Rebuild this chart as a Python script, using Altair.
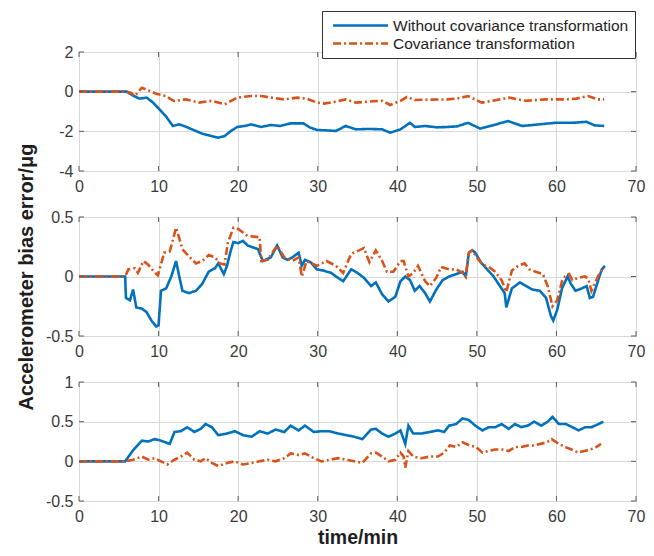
import altair as alt
import pandas as pd

SERIES = ["Without covariance transformation", "Covariance transformation"]
COLORS = ["#0072BD", "#D95319"]
DASHES = [[1, 0], [8, 3, 2, 3]]

X_TICKS = [0, 10, 20, 30, 40, 50, 60, 70]
Y_DOM_1, Y_TICKS_1 = [-4, 2], [-4, -2, 0, 2]
Y_DOM_2, Y_TICKS_2 = [-0.5, 0.5], [-0.5, 0, 0.5]
Y_DOM_3, Y_TICKS_3 = [-0.5, 1], [-0.5, 0, 0.5, 1]

Y_TITLE = "Accelerometer bias error/μg"
X_TITLE = "time/min"

# (time in min, bias error) pairs
P1_WITHOUT = [(0, 0), (6.0, 0), (6.8, -0.2), (7.6, -0.35), (8.5, -0.3), (9.3, -0.55), (10.1, -0.89),
              (10.9, -1.23), (11.8, -1.73), (12.6, -1.65), (13.2, -1.73), (14.2, -1.9), (15.5, -2.12),
              (16.7, -2.24), (17.5, -2.32), (18.3, -2.24), (19.1, -1.98), (19.9, -1.78), (20.8, -1.73),
              (21.6, -1.65), (22.9, -1.78), (24.1, -1.68), (25.3, -1.73), (26.6, -1.6), (28.2, -1.6),
              (29.0, -1.8), (29.9, -1.93), (31.0, -1.95), (32.3, -1.98), (33.5, -1.73), (34.8, -1.9),
              (36.5, -1.88), (38.1, -1.9), (39.1, -2.07), (40.4, -1.9), (41.6, -1.57), (42.2, -1.78),
              (43.5, -1.73), (45.0, -1.8), (46.3, -1.78), (47.5, -1.75), (48.9, -1.57), (50.4, -1.86),
              (52.0, -1.7), (53.9, -1.48), (55.7, -1.73), (57.8, -1.65), (59.9, -1.57), (62.0, -1.57),
              (63.8, -1.52), (64.8, -1.7), (66.0, -1.73)]
P1_COV = [(0, 0), (6.0, 0), (6.5, -0.05), (7.0, -0.22), (7.9, 0.2), (8.5, 0.1), (9.7, -0.1), (10.9, -0.22),
          (11.9, -0.47), (13.4, -0.39), (15.1, -0.55), (16.7, -0.46), (18.3, -0.64), (19.9, -0.3),
          (21.6, -0.22), (22.9, -0.22), (24.1, -0.3), (25.8, -0.39), (27.4, -0.3), (28.6, -0.35),
          (29.9, -0.55), (30.8, -0.6), (32.3, -0.5), (33.5, -0.39), (34.8, -0.55), (36.5, -0.5),
          (38.1, -0.46), (39.1, -0.67), (40.4, -0.46), (41.2, -0.27), (42.2, -0.42), (44.0, -0.4),
          (46.3, -0.39), (47.5, -0.35), (48.9, -0.22), (50.6, -0.55), (52.0, -0.46), (54.1, -0.3),
          (56.1, -0.46), (58.6, -0.39), (61.1, -0.39), (62.5, -0.35), (64.0, -0.22), (65.2, -0.39),
          (66.0, -0.39)]

P2_WITHOUT = [(0, 0), (5.8, 0), (5.9, -0.18), (6.4, -0.2), (6.8, -0.11), (7.2, -0.26), (7.9, -0.27),
              (8.5, -0.3), (9.1, -0.37), (9.7, -0.42), (10.0, -0.41), (10.3, -0.12), (10.95, -0.1),
              (11.6, 0.0), (12.2, 0.13), (12.6, 0.0), (13.0, -0.12), (13.8, -0.14), (14.7, -0.12),
              (15.5, -0.06), (16.3, 0.04), (17.1, 0.07), (17.5, 0.11), (18.2, 0.02), (18.6, 0.09),
              (19.0, 0.2), (19.4, 0.29), (20.0, 0.28), (20.6, 0.3), (21.2, 0.26), (22.5, 0.23),
              (23.1, 0.13), (24.1, 0.16), (24.9, 0.26), (25.6, 0.16), (26.2, 0.14), (26.8, 0.16),
              (27.6, 0.2), (28.0, 0.09), (28.4, 0.14), (29.1, 0.12), (29.9, 0.06), (30.7, 0.05),
              (31.7, 0.03), (32.3, 0.0), (33.2, -0.04), (34.2, 0.06), (35.0, 0.03), (35.8, -0.01),
              (36.7, -0.08), (37.3, -0.05), (38.1, -0.15), (38.9, -0.21), (39.75, -0.17), (40.4, -0.04),
              (41.0, 0.0), (41.6, -0.03), (42.2, -0.12), (42.8, -0.08), (43.5, -0.14), (44.1, -0.21),
              (44.9, -0.11), (45.7, -0.03), (46.5, 0.0), (47.4, 0.02), (48.2, 0.04), (48.6, 0.0),
              (49.0, 0.2), (49.4, 0.22), (49.8, 0.2), (50.5, 0.12), (51.3, 0.06), (52.1, 0.0),
              (52.9, -0.08), (53.5, -0.14), (53.7, -0.26), (54.4, -0.1), (55.4, -0.05), (56.2, -0.08),
              (57.0, -0.11), (57.9, -0.12), (58.7, -0.18), (59.3, -0.33), (59.6, -0.37), (60.1, -0.28),
              (60.7, -0.1), (61.4, 0.0), (61.8, -0.06), (62.4, -0.12), (63.2, -0.1), (63.8, -0.08),
              (64.2, -0.18), (64.6, -0.17), (65.3, -0.02), (65.7, 0.06), (66.1, 0.09)]
P2_COV = [(0, 0), (5.8, 0), (6.2, 0.06), (7.0, 0.07), (7.4, 0.03), (8.1, 0.13), (8.7, 0.1), (9.3, 0.05),
          (9.9, 0.01), (10.3, 0.1), (10.7, 0.2), (11.4, 0.21), (11.8, 0.31), (12.2, 0.41), (12.6, 0.32),
          (13.0, 0.23), (13.8, 0.17), (14.7, 0.11), (15.5, 0.13), (16.3, 0.18), (17.1, 0.16),
          (17.7, 0.11), (18.3, 0.1), (18.7, 0.28), (19.4, 0.41), (20.0, 0.4), (20.6, 0.37),
          (21.2, 0.34), (22.7, 0.33), (22.9, 0.13), (23.7, 0.14), (24.9, 0.26), (25.8, 0.16),
          (26.8, 0.13), (27.6, 0.16), (28.0, 0.0), (28.6, 0.13), (29.9, 0.09), (31.1, 0.13),
          (32.3, 0.09), (33.2, 0.03), (34.2, 0.19), (35.2, 0.22), (35.8, 0.24), (36.5, 0.12),
          (37.3, 0.22), (38.1, 0.13), (38.7, 0.04), (39.5, 0.04), (40.4, 0.13), (40.8, 0.13),
          (41.4, 0.0), (42.0, 0.03), (42.6, 0.09), (43.5, -0.04), (44.1, -0.08), (44.9, -0.01),
          (45.5, 0.08), (46.5, 0.06), (47.4, 0.06), (48.2, 0.03), (48.6, 0.0), (49.0, 0.2),
          (49.4, 0.22), (50.0, 0.16), (50.7, 0.1), (51.5, 0.08), (52.3, 0.04), (53.1, -0.03),
          (53.7, -0.13), (54.4, 0.05), (55.2, 0.09), (56.0, 0.11), (56.6, 0.06), (57.4, 0.04),
          (58.3, 0.02), (58.9, -0.08), (59.5, -0.25), (60.1, -0.2), (60.7, -0.04), (61.1, 0.0),
          (61.6, 0.02), (62.0, -0.03), (62.8, -0.01), (63.6, 0.0), (64.0, -0.02), (64.4, -0.12),
          (64.8, -0.06), (65.5, 0.04), (66.1, 0.07)]

P3_WITHOUT = [(0, 0), (5.8, 0), (6.8, 0.14), (7.9, 0.26), (8.7, 0.25), (9.5, 0.28), (10.3, 0.26),
              (11.4, 0.22), (12.0, 0.37), (12.8, 0.38), (13.6, 0.43), (14.5, 0.37), (15.3, 0.41),
              (15.9, 0.47), (16.7, 0.43), (17.5, 0.33), (18.6, 0.35), (19.6, 0.38), (20.6, 0.33),
              (21.7, 0.31), (22.7, 0.38), (23.7, 0.35), (24.7, 0.4), (25.8, 0.37), (26.6, 0.45),
              (27.6, 0.39), (28.4, 0.45), (29.5, 0.37), (30.5, 0.38), (31.5, 0.38), (32.6, 0.35),
              (33.6, 0.33), (34.6, 0.31), (35.6, 0.28), (36.7, 0.4), (37.3, 0.41), (38.1, 0.35),
              (38.9, 0.31), (39.75, 0.35), (40.4, 0.39), (41.0, 0.22), (41.4, 0.45), (42.0, 0.35),
              (43.0, 0.35), (44.1, 0.37), (45.1, 0.39), (45.9, 0.37), (46.5, 0.45), (47.4, 0.47),
              (48.2, 0.54), (49.0, 0.52), (49.8, 0.45), (50.7, 0.39), (51.5, 0.43), (52.3, 0.43),
              (53.1, 0.47), (54.0, 0.41), (54.8, 0.47), (55.6, 0.43), (56.4, 0.45), (57.2, 0.5),
              (58.1, 0.45), (58.9, 0.5), (59.5, 0.56), (60.3, 0.47), (61.2, 0.47), (62.0, 0.43),
              (62.8, 0.39), (63.6, 0.43), (64.4, 0.43), (65.3, 0.47), (65.9, 0.5)]
P3_COV = [(0, 0), (5.8, 0), (6.8, 0.02), (7.9, 0.06), (8.7, 0.02), (9.5, 0.04), (10.3, 0.0), (11.1, -0.04),
          (12.0, 0.02), (12.8, 0.06), (13.6, 0.11), (14.5, 0.02), (15.3, 0.0), (15.9, 0.04),
          (16.7, -0.02), (17.5, -0.06), (18.6, -0.02), (19.6, 0.0), (20.6, -0.04), (21.7, -0.02),
          (22.7, 0.0), (23.7, 0.02), (24.7, 0.0), (25.8, 0.04), (26.6, 0.1), (27.6, 0.08), (28.4, 0.1),
          (29.5, 0.04), (30.5, 0.0), (31.5, 0.02), (32.6, 0.04), (33.6, 0.02), (34.6, 0.0),
          (35.6, -0.02), (36.7, 0.1), (37.3, 0.11), (38.1, 0.06), (38.9, 0.0), (39.75, 0.02),
          (40.4, 0.11), (40.8, 0.06), (41.0, -0.08), (41.4, 0.13), (42.0, 0.06), (43.0, 0.04),
          (44.1, 0.06), (45.1, 0.06), (45.9, 0.11), (46.6, 0.2), (47.4, 0.18), (48.2, 0.24),
          (49.1, 0.2), (49.9, 0.18), (50.7, 0.11), (51.5, 0.13), (52.3, 0.15), (53.2, 0.15),
          (54.0, 0.13), (54.8, 0.18), (55.6, 0.18), (56.4, 0.2), (57.2, 0.2), (58.0, 0.22),
          (58.8, 0.24), (59.4, 0.28), (60.3, 0.22), (61.1, 0.18), (61.9, 0.15), (62.7, 0.11),
          (63.5, 0.13), (64.3, 0.15), (65.0, 0.18), (65.6, 0.22)]

W, H = 557, 119
FRAME = "#5e5e5e"
FONT = "Liberation Sans"
TICK_LEN = 5
LEGEND_W = 314


def series_df(pairs, name):
    return pd.DataFrame({"t": [p[0] for p in pairs], "v": [p[1] for p in pairs], "series": name})


def panel(without, cov, ydom, yticks, show_legend, ytitle, xtitle):
    xscale = alt.Scale(domain=[0, 70], nice=False, zero=False)
    yscale = alt.Scale(domain=ydom, nice=False, zero=False)
    xaxis = alt.Axis(values=X_TICKS, grid=True, ticks=False, domain=False, labelPadding=7,
                     labelFontSize=16, labelColor="#3a3a3a", labelFlush=False, labelOverlap=False,
                     title=xtitle if xtitle else "", titleFontSize=19.5, titleFontWeight="bold",
                     titleColor="#1e1e1e", titlePadding=4)
    yaxis = alt.Axis(values=yticks, grid=True, ticks=False, domain=False, labelPadding=6,
                     labelFontSize=16, labelColor="#3a3a3a", labelFlush=False, labelOverlap=False,
                     labelExpr="datum.value + ''",
                     title=ytitle if ytitle else "", titleFontSize=20, titleFontWeight="bold",
                     titleColor="#1e1e1e", titlePadding=9)
    if show_legend:
        leg = alt.Legend(orient="none", legendX=W - LEGEND_W, legendY=-41, title=None,
                         symbolType="M-0.5,0H7.5", symbolSize=189, symbolStrokeWidth=2.6,
                         labelOffset=48, labelFontSize=15.5, labelFont=FONT, labelColor="#1e1e1e",
                         labelLimit=400, rowPadding=1, padding=6, fillColor="white",
                         strokeColor="#333333", cornerRadius=0)
    else:
        leg = None
    color = alt.Color("series:N", scale=alt.Scale(domain=SERIES, range=COLORS), legend=leg)
    dash = alt.StrokeDash("series:N", scale=alt.Scale(domain=SERIES, range=DASHES), legend=leg)

    xe = alt.X("t:Q", scale=xscale, axis=xaxis)
    ye = alt.Y("v:Q", scale=yscale, axis=yaxis)
    layers = []
    for pairs, name in [(without, SERIES[0]), (cov, SERIES[1])]:
        layers.append(
            alt.Chart(series_df(pairs, name)).mark_line(strokeWidth=2.6).encode(
                x=xe, y=ye, color=color, strokeDash=dash, order="t:Q")
        )
    xt = pd.DataFrame({"t": X_TICKS})
    yt = pd.DataFrame({"v": yticks})
    rule = dict(color=FRAME, strokeWidth=1)
    layers.append(alt.Chart(xt).mark_rule(**rule).encode(x=xe, y=alt.value(0), y2=alt.value(TICK_LEN)))
    layers.append(alt.Chart(xt).mark_rule(**rule).encode(x=xe, y=alt.value(H - TICK_LEN), y2=alt.value(H)))
    layers.append(alt.Chart(yt).mark_rule(**rule).encode(y=ye, x=alt.value(0), x2=alt.value(TICK_LEN)))
    layers.append(alt.Chart(yt).mark_rule(**rule).encode(y=ye, x=alt.value(W - TICK_LEN), x2=alt.value(W)))
    return alt.layer(*layers).properties(width=W, height=H)


p1 = panel(P1_WITHOUT, P1_COV, Y_DOM_1, Y_TICKS_1, True, None, None)
p2 = panel(P2_WITHOUT, P2_COV, Y_DOM_2, Y_TICKS_2, False, Y_TITLE, None)
p3 = panel(P3_WITHOUT, P3_COV, Y_DOM_3, Y_TICKS_3, False, None, X_TITLE)

chart = alt.vconcat(p1, p2, p3, spacing=46, bounds="flush").resolve_scale(
    color="independent", strokeDash="independent"
).properties(
    background="white",
    padding={"left": 7, "top": 2, "right": 0, "bottom": 0},
).configure_view(
    stroke=FRAME, strokeWidth=1
).configure_axis(
    labelFont=FONT, titleFont=FONT, gridColor="#d9d9d9", gridWidth=1
)

chart.save("out.html", embed_options={"renderer": "svg", "actions": False})
